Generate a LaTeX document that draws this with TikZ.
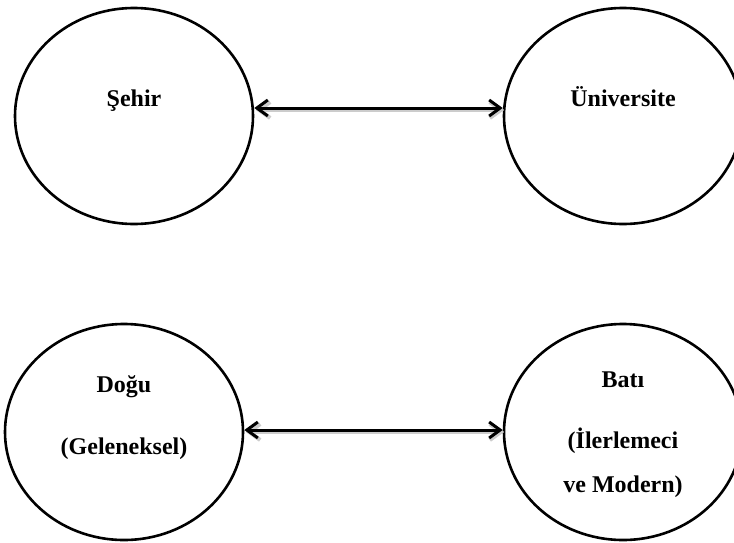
\documentclass[tikz,border=0pt]{standalone}
\usepackage{fontspec}
\setmainfont{Liberation Serif}
\usetikzlibrary{arrows.meta, shapes.geometric, calc}

\begin{document}
\begin{tikzpicture}[
  x=1pt, y=-1pt,
  font=\fontsize{24}{28}\selectfont\bfseries,
  blob/.style={
    ellipse, draw, line width=2.6pt, inner sep=0pt,
    minimum width=238pt, minimum height=216pt
  },
  lbl/.style={anchor=base, inner sep=0pt},
  tip/.style={Straight Barb[length=11pt, width=16pt]},
  link/.style={
    {Straight Barb[length=11pt, width=16pt]}-{Straight Barb[length=11pt, width=16pt]},
    line width=3pt,
    preaction={draw=black!20, line width=4pt,
               transform canvas={shift={(1.5pt,-2pt)}}}
  }
]
\useasboundingbox (0,0) rectangle (734,542);

\node[blob] (sehir) at (134,116) {};
\node[blob] (univ)  at (623,116) {};
\node[blob] (dogu)  at (124,432) {};
\node[blob] (bati)  at (623,432) {};

\node[lbl] (sehirtxt) at (134,106) {Şehir};
\node[lbl] (univtxt)  at (623,106) {Üniversite};

\node[lbl] (dogutxt)  at (124,392) {Doğu};
\node[lbl] (gelentxt) at (124,454) {(Geleneksel)};

\node[lbl] (batitxt)  at (623,387) {Batı};
\node[lbl] (ilertxt)  at (623,448) {(İlerlemeci};
\node[lbl] (modtxt)   at (623,492) {ve Modern)};

% arrows sit a little above the middle of the circles
\draw[link] ([yshift=8pt]sehir.east) -- ([yshift=8pt]univ.west);
\draw[link] ([yshift=2pt]dogu.east) -- ([yshift=2pt]bati.west);

\end{tikzpicture}
\end{document}
